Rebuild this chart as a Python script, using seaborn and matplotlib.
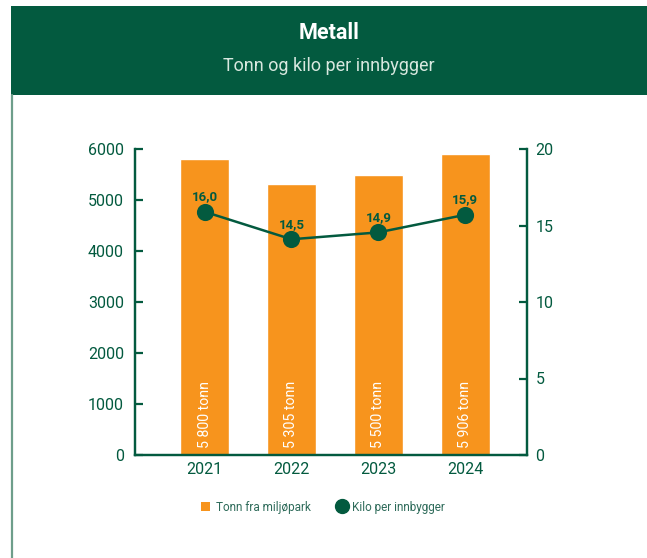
import pandas as pd
import seaborn as sns
import matplotlib.pyplot as plt
from matplotlib.patches import Patch, Rectangle
from matplotlib.lines import Line2D

# data
years = ["2021", "2022", "2023", "2024"]
tonn = [5800, 5305, 5500, 5906]
tonn_labels = ["5 800 tonn", "5 305 tonn", "5 500 tonn", "5 906 tonn"]
kilo = [15.9, 14.1, 14.55, 15.7]  # as drawn in the picture
kilo_labels = ["16,0", "14,5", "14,9", "15,9"]

green = "#035A3F"
orange = "#F7941D"
sns.set_style("white")
plt.rcParams["font.family"] = ["Roboto", "DejaVu Sans"]

df = pd.DataFrame({"year": years, "tonn": tonn, "kilo": kilo})

fig = plt.figure(figsize=(6.47, 5.58), dpi=100)

# header band + left border line
fig.patches.append(Rectangle((11 / 647, 1 - 95 / 558), 1, 89 / 558, transform=fig.transFigure,
                             facecolor=green, edgecolor="none", zorder=0))
fig.add_artist(Line2D([12 / 647, 12 / 647], [0, 1 - 95 / 558], transform=fig.transFigure,
                      color="#6E9E8B", linewidth=1.6))
fig.text(329 / 647, 1 - 33 / 558, "Metall", color="white", fontsize=15.5, fontweight="bold",
         ha="center", va="center")
fig.text(329 / 647, 1 - 66 / 558, "Tonn og kilo per innbygger", color="#D8E8DF", fontsize=13,
         ha="center", va="center")

ax = fig.add_axes([135 / 647, 1 - 455 / 558, (527 - 135) / 647, (455 - 149) / 558])
sns.barplot(data=df, x="year", y="tonn", color=orange, saturation=1, width=0.57, ax=ax)
ax.set_ylim(0, 6000)
ax.set_yticks(range(0, 6001, 1000))
ax.set_xlabel("")
ax.set_ylabel("")

for bar, lab in zip(ax.patches, tonn_labels):
    ax.text(bar.get_x() + bar.get_width() / 2, 140, lab, rotation=90, color="white",
            fontsize=10.2, ha="center", va="bottom")

ax2 = ax.twinx()
sns.pointplot(data=df, x="year", y="kilo", color=green, markers="o", markersize=11,
              linewidth=1.8, ax=ax2)
ax2.set_ylim(0, 20)
ax2.set_yticks([0, 5, 10, 15, 20])
ax2.set_ylabel("")
ax2.set_xlabel("")
for i, (v, lab) in enumerate(zip(kilo, kilo_labels)):
    ax2.annotate(lab, (i, v), xytext=(0, 15), textcoords="offset pixels", color=green,
                 fontsize=9.5, fontweight="bold", ha="center", va="center")

ax.set_xlim(-0.80, 3.71)
ax2.set_xlim(-0.80, 3.71)

for a in (ax, ax2):
    for s in a.spines.values():
        s.set_color(green)
        s.set_linewidth(1.6)
    a.spines["top"].set_visible(False)
ax.tick_params(axis="y", direction="in", length=6, width=1.6, color=green, labelcolor=green,
               labelsize=11.5, pad=8)
ax2.tick_params(axis="y", direction="in", length=6, width=1.6, color=green, labelcolor=green,
                labelsize=11.5, pad=6)
ax.tick_params(axis="x", length=0, labelcolor=green, labelsize=11.5, pad=5)
ax.set_xticks([0, 1, 2, 3], years)
ax.set_xticks([0.5, 1.5, 2.5], minor=True)
ax.tick_params(axis="x", which="minor", direction="in", length=6, width=1.6, color=green)
ax2.set_yticklabels(["0", "5", "10", "15", "20"])

handles = [Patch(facecolor=orange, edgecolor="none"),
           Line2D([], [], marker="o", linestyle="none", markersize=10, color=green)]
fig.legend(handles, ["Tonn fra miljøpark", "Kilo per innbygger"], loc="center",
           bbox_to_anchor=(323 / 647, 1 - 507 / 558), ncol=2, frameon=False, fontsize=8.5,
           labelcolor="#2E6B5A", handlelength=0.8, handleheight=0.9, handletextpad=0.5,
           columnspacing=2.2)

fig.savefig("out.png", dpi=100)
